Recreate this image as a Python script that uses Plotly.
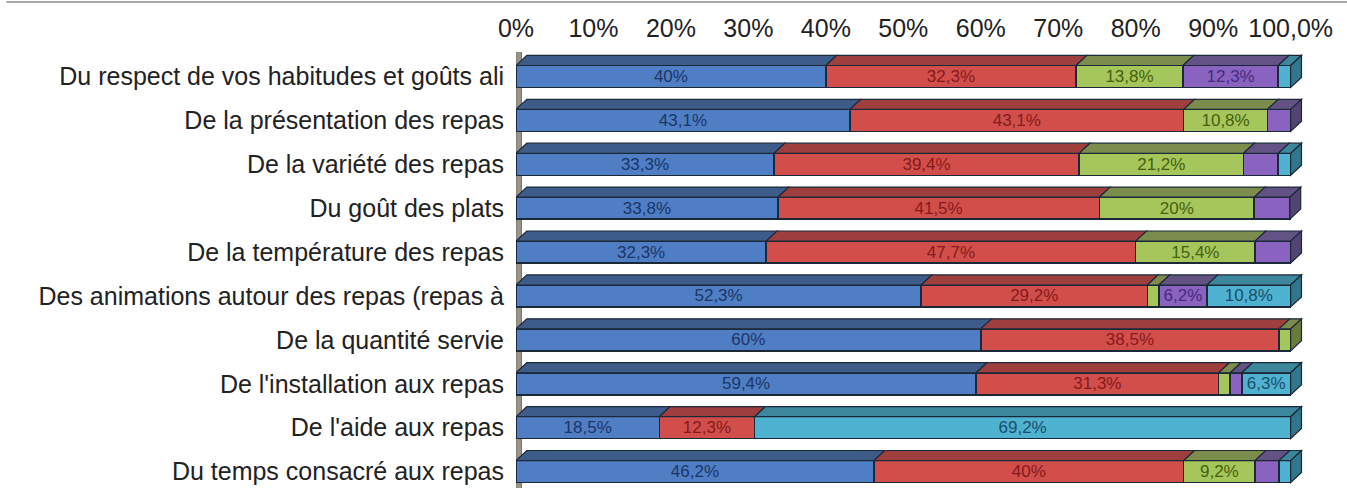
import plotly.graph_objects as go

categories = [
    "Du respect de vos habitudes et goûts ali",
    "De la présentation des repas",
    "De la variété des repas",
    "Du goût des plats",
    "De la température des repas",
    "Des animations autour des repas (repas à",
    "De la quantité servie",
    "De l'installation aux repas",
    "De l'aide aux repas",
    "Du temps consacré aux repas",
]
series_names = ["Très satisfait", "Satisfait", "Peu satisfait", "Pas satisfait", "Non concerné"]
s_blue   = [40.0, 43.1, 33.3, 33.8, 32.3, 52.3, 60.0, 59.4, 18.5, 46.2]
s_red    = [32.3, 43.1, 39.4, 41.5, 47.7, 29.2, 38.5, 31.3, 12.3, 40.0]
s_green  = [13.8, 10.8, 21.2, 20.0, 15.4, 1.5, 1.5, 1.5, 0.0, 9.2]
s_purple = [12.3, 3.0, 4.5, 4.6, 4.6, 6.2, 0.0, 1.5, 0.0, 3.1]
s_cyan   = [1.6, 0.0, 1.6, 0.0, 0.0, 10.8, 0.0, 6.3, 69.2, 1.5]
tick_vals = [0, 10, 20, 30, 40, 50, 60, 70, 80, 90, 100]
tick_text = ["0%", "10%", "20%", "30%", "40%", "50%", "60%", "70%", "80%", "90%", "100,0%"]

series = [s_blue, s_red, s_green, s_purple, s_cyan]
front = ["#4F7EC4", "#D24E4B", "#A5C65A", "#8A62BF", "#4EB2D0"]
top = ["#3E5C8A", "#9E3F3D", "#7B8C4C", "#625384", "#3C879C"]
side = ["#34507A", "#873432", "#687A3C", "#524574", "#33758A"]
txtc = ["#1C3568", "#861A1A", "#45600F", "#452A80", "#1A4E6A"]
edge = "#1B2838"

BW = 0.5      # bar thickness (category units)
DX = 1.4      # depth offset in x (% units)
DY = 0.23     # depth offset in y (category units)

def fmt(v):
    return ("%g" % v).replace(".", ",") + "%"

ypos = list(range(len(categories)))
fig = go.Figure()
for k, vals in enumerate(series):
    fig.add_trace(go.Bar(
        y=ypos, x=vals, orientation="h", name=series_names[k], width=BW,
        marker=dict(color=front[k], line=dict(color=edge, width=1.5)),
        text=[fmt(v) if v >= 5 else "" for v in vals],
        textposition="inside", insidetextanchor="middle", textangle=0,
        constraintext="none",
        textfont=dict(family="Liberation Sans, Arial", size=17, color=txtc[k]),
        hoverinfo="skip",
    ))

shapes = []
# left wall
n = len(categories)
shapes.append(dict(type="path", xref="x", yref="y", layer="below",
                   path=f"M 0,{n} L {DX*0.5},{n} L {DX*0.5},{-0.5-DY-0.02} L 0,{-0.5-0.02} Z",
                   fillcolor="#9A9488", line=dict(color="#6E6E6E", width=1)))
for i in range(n):
    cum = 0.0
    yt = i - BW / 2
    last = None
    for k, vals in enumerate(series):
        v = vals[i]
        if v <= 0:
            continue
        x0, x1 = cum, cum + v
        shapes.append(dict(type="path", xref="x", yref="y", layer="above",
                           path=f"M {x0},{yt} L {x1},{yt} L {x1+DX},{yt-DY} L {x0+DX},{yt-DY} Z",
                           fillcolor=top[k], line=dict(color=edge, width=1.2)))
        cum = x1
        last = k
    yb = i + BW / 2
    shapes.append(dict(type="path", xref="x", yref="y", layer="above",
                       path=f"M {cum},{yt} L {cum+DX},{yt-DY} L {cum+DX},{yb-DY} L {cum},{yb} Z",
                       fillcolor=side[last], line=dict(color=edge, width=1.2)))

# grey frame line at top of image
shapes.append(dict(type="line", xref="paper", yref="paper",
                   x0=-516/794 + 0.008, x1=1 + 37/794, y0=1 + 50/436, y1=1 + 50/436,
                   line=dict(color="#A8A8A8", width=2)))

fig.update_layout(
    barmode="stack",
    width=1347, height=488,
    margin=dict(l=516, r=37, t=52, b=0),
    paper_bgcolor="white", plot_bgcolor="white",
    showlegend=False,
    shapes=shapes,
    font=dict(family="Liberation Sans, Arial", color="#222222"),
    xaxis=dict(side="top", range=[0, 102.5], tickvals=tick_vals, ticktext=tick_text,
               showgrid=False, zeroline=False, showline=False,
               ticks="outside", ticklen=4, tickcolor="rgba(0,0,0,0)",
               tickfont=dict(size=25, color="#222222"), fixedrange=True),
    yaxis=dict(range=[9.374, -0.558], tickvals=ypos, ticktext=categories,
               showgrid=False, zeroline=False, showline=False,
               ticks="outside", ticklen=6, tickcolor="rgba(0,0,0,0)",
               tickfont=dict(size=25, color="#222222"), fixedrange=True),
)
fig.write_html("out.html", config={"displayModeBar": False},
               post_script="document.body.style.margin='0';document.body.style.overflow='hidden';")
